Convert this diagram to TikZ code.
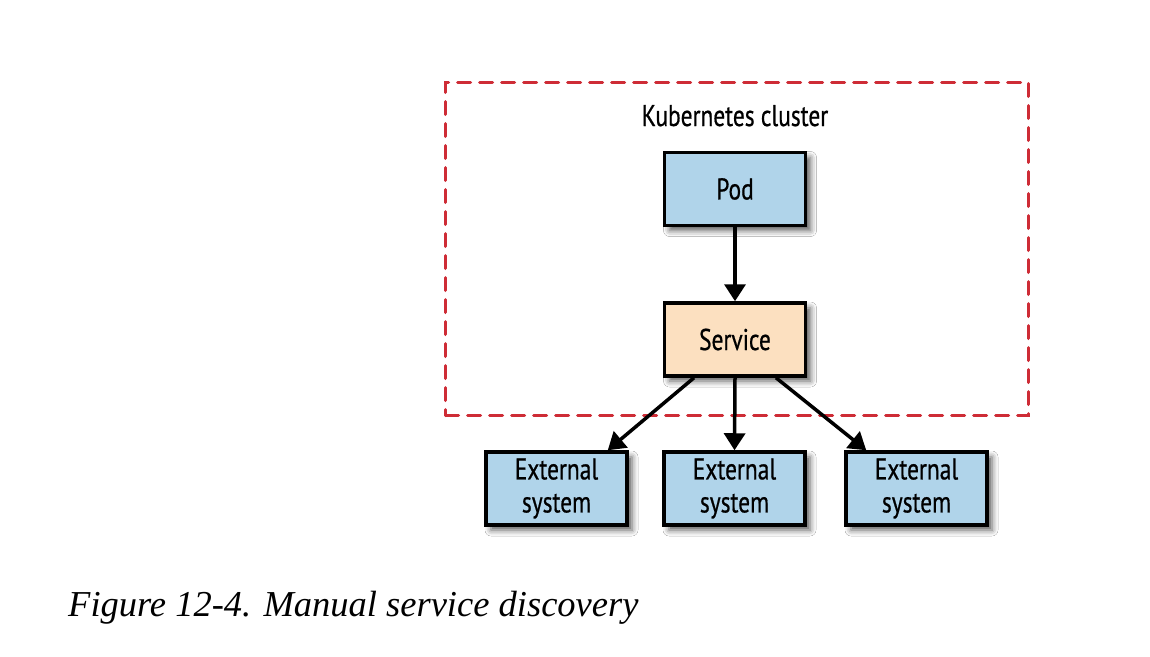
\documentclass[tikz,border=0pt]{standalone}
\usepackage{fontspec}
\usetikzlibrary{arrows.meta,shadows.blur,calc}
\newfontfamily\lblfont[FakeStretch=0.78,FakeBold=0.6]{PT Sans}
\newfontfamily\capfont{Liberation Serif}
\definecolor{boxblue}{RGB}{176,212,234}
\definecolor{boxorange}{RGB}{252,224,192}
\definecolor{dashred}{RGB}{206,44,54}
\tikzset{
  sysbox/.style={draw=black, line width=3.5pt, fill=boxblue, minimum width=141pt, minimum height=73pt,
    inner sep=0pt, align=center, font=\lblfont\fontsize{30}{33}\selectfont,
    blur shadow={shadow xshift=5pt, shadow yshift=-5pt, shadow blur radius=6pt, shadow opacity=65}},
  svcbox/.style={sysbox, fill=boxorange},
  arr/.style={line width=3.5pt, -{Triangle[length=17pt,width=21pt]}},
  clusterline/.style={draw=dashred, line width=3pt, dash pattern=on 13pt off 9pt, line cap=round},
  lbl/.style={font=\lblfont\fontsize{30}{33}\selectfont, inner sep=0pt},
}
\begin{document}
\begin{tikzpicture}[x=1pt,y=-1pt]
\useasboundingbox (0,0) rectangle (1150,656);
\fill[white] (0,0) rectangle (1150,656);
\node[clusterline, minimum width=583pt, minimum height=333pt, inner sep=0pt, anchor=north west] (cluster) at (444,81) {};
\node[lbl, anchor=base] (title) at (735,126) {Kubernetes cluster};
\node[sysbox] (pod) at (735,189) {Pod};
\node[svcbox] (svc) at (735,339.5) {Service};
\node[sysbox] (e1) at (556.5,488.5) {External\\system};
\node[sysbox] (e2) at (734.5,488.5) {External\\system};
\node[sysbox] (e3) at (916.5,488.5) {External\\system};
\draw[arr] (pod.south) -- (svc.north);
\draw[arr] ([xshift=-41pt]svc.south) -- ([xshift=-21pt]e1.north east);
\draw[arr] (svc.south) -- (e2.north);
\draw[arr] ([xshift=41pt]svc.south) -- ([xshift=22pt]e3.north west);
\node[anchor=base west, inner sep=0pt, font=\capfont\fontsize{36.5}{42}\selectfont\itshape] (caption) at (68,616) {Figure 12-4. Manual service discovery};
\end{tikzpicture}
\end{document}
